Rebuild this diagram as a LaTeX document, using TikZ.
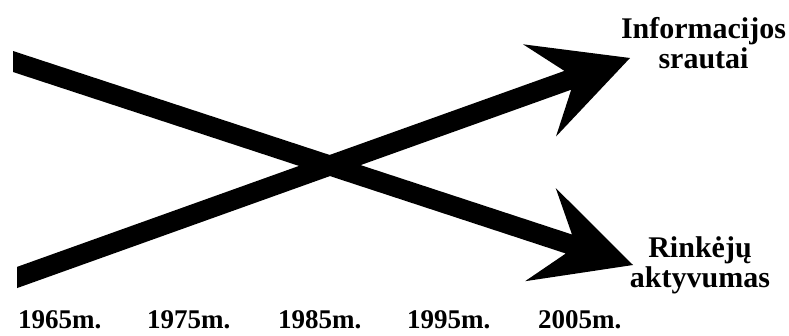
\documentclass[tikz,border=0pt]{standalone}
\usepackage{fontspec}
\setmainfont{Liberation Serif}
\begin{document}
\begin{tikzpicture}[x=1pt,y=-1pt,
  lbl/.style={font=\bfseries\fontsize{30}{30}\selectfont, align=center, inner sep=0pt, anchor=base},
  yr/.style={font=\bfseries\fontsize{27}{27}\selectfont, inner sep=0pt, anchor=base west},
  bigarrow/.style={fill=black, draw=none}]
\useasboundingbox (0,0) rectangle (789,335);
% descending arrow (Rinkeju aktyvumas)
\coordinate (d0) at (13,61.5);
\coordinate (d1) at (633,265);
\fill[bigarrow] (13,51) -- (572.0,234.5) -- (555.7,188.0) -- (d1) -- (525.1,281.2) -- (565.8,253.5) -- (13,72) -- cycle;
% rising arrow (Informacijos srautai)
\coordinate (r0) at (17,277.5);
\coordinate (r1) at (630,58);
\fill[bigarrow] (17,266.9) -- (564.4,70.9) -- (523.0,44.3) -- (r1) -- (556.0,136.5) -- (571.2,89.7) -- (17,288.1) -- cycle;
% labels
\node[lbl] (info) at (703.5,68) {Informacijos\\srautai};
\node[lbl] (rink) at (700,287) {Rinkėjų\\aktyvumas};
% years
\node[yr] (y1965) at (18,328) {1965m.};
\node[yr] (y1975) at (147,328) {1975m.};
\node[yr] (y1985) at (278,328) {1985m.};
\node[yr] (y1995) at (407,328) {1995m.};
\node[yr] (y2005) at (538,328) {2005m.};
\end{tikzpicture}
\end{document}
